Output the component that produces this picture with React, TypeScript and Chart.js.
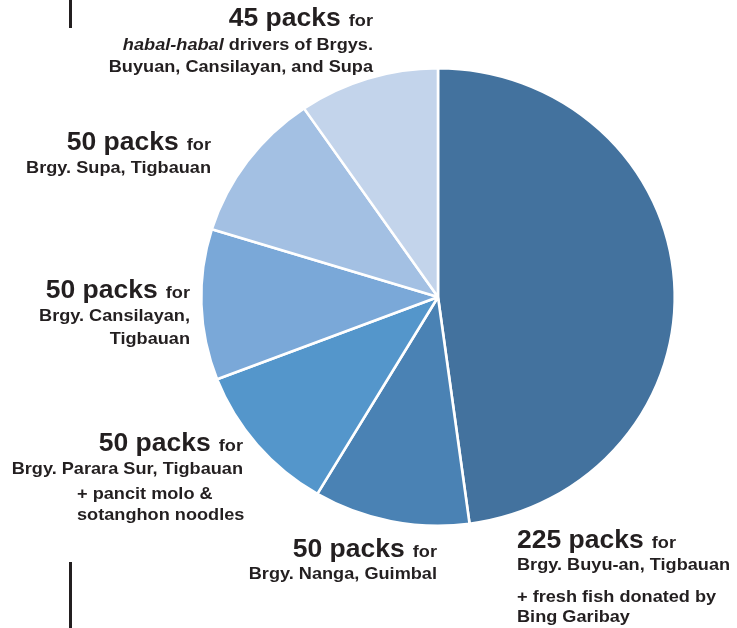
import React, { useEffect, useRef } from "react";
import { Chart, registerables } from "chart.js";

Chart.register(...registerables);

// ---- Data ----
const categories = [
  "Brgy. Buyu-an, Tigbauan",
  "Brgy. Nanga, Guimbal",
  "Brgy. Parara Sur, Tigbauan",
  "Brgy. Cansilayan, Tigbauan",
  "Brgy. Supa, Tigbauan",
  "habal-habal drivers",
];
const packs = [225, 50, 50, 50, 50, 45];
const sliceColors = ["#43729e", "#4a82b4", "#5496cb", "#7aa8d8", "#a3c0e3", "#c3d4eb"];
const detailLines: string[][] = [
  ["Brgy. Buyu-an, Tigbauan", "+ fresh fish donated by", "Bing Garibay"],
  ["Brgy. Nanga, Guimbal"],
  ["Brgy. Parara Sur, Tigbauan", "+ pancit molo &", "sotanghon noodles"],
  ["Brgy. Cansilayan,", "Tigbauan"],
  ["Brgy. Supa, Tigbauan"],
  ["*habal-habal* drivers of Brgys.", "Buyuan, Cansilayan, and Supa"],
];

// ---- Layout (positions only) ----
type LinePos = { x: number; y: number; a: "left" | "right" };
const labelLayout: LinePos[][] = [
  [
    { x: 517, y: 548, a: "left" },
    { x: 517, y: 570, a: "left" },
    { x: 517, y: 602, a: "left" },
    { x: 517, y: 622, a: "left" },
  ],
  [
    { x: 437, y: 557, a: "right" },
    { x: 437, y: 579, a: "right" },
  ],
  [
    { x: 243, y: 451, a: "right" },
    { x: 243, y: 474, a: "right" },
    { x: 77, y: 499, a: "left" },
    { x: 77, y: 520, a: "left" },
  ],
  [
    { x: 190, y: 298, a: "right" },
    { x: 190, y: 321, a: "right" },
    { x: 190, y: 344, a: "right" },
  ],
  [
    { x: 211, y: 150, a: "right" },
    { x: 211, y: 173, a: "right" },
  ],
  [
    { x: 373, y: 26, a: "right" },
    { x: 373, y: 50, a: "right" },
    { x: 373, y: 72, a: "right" },
  ],
];

const TEXT_COLOR = "#231f20";
const FONT = "'Liberation Sans', Arial, Helvetica, sans-serif";
const BIG = 26;
const BIG_SX = 1.02;
const SMALL = 16.5;
const SX = 1.1;
const FOR_GAP = 8;
const PIE_CX = 438;
const PIE_CY = 297;
const PIE_STRETCH = 1.035;

type Run = { text: string; size: number; italic?: boolean; sx?: number; gap?: number };

function fontOf(r: Run) {
  return `${r.italic ? "italic " : ""}bold ${r.size}px ${FONT}`;
}

function drawRuns(ctx: CanvasRenderingContext2D, runs: Run[], pos: LinePos) {
  const widths = runs.map((r) => {
    ctx.font = fontOf(r);
    return ctx.measureText(r.text).width * (r.sx ?? SX) + (r.gap ?? 0);
  });
  const total = widths.reduce((a, b) => a + b, 0);
  let cx = pos.a === "right" ? pos.x - total : pos.x;
  runs.forEach((r, i) => {
    ctx.save();
    ctx.font = fontOf(r);
    ctx.fillStyle = TEXT_COLOR;
    ctx.textAlign = "left";
    ctx.textBaseline = "alphabetic";
    ctx.translate(cx + (r.gap ?? 0), pos.y);
    ctx.scale(r.sx ?? SX, 1);
    ctx.fillText(r.text, 0, 0);
    ctx.restore();
    cx += widths[i];
  });
}

function parseLine(s: string): Run[] {
  const parts = s.split("*");
  return parts
    .map((t, i) => ({ text: t, size: SMALL, italic: i % 2 === 1 }))
    .filter((r) => r.text.length > 0);
}

const stretchPlugin = {
  id: "stretch",
  beforeDatasetsDraw(chart: any) {
    const ctx = chart.ctx;
    ctx.save();
    ctx.translate(PIE_CX, PIE_CY);
    ctx.scale(PIE_STRETCH, 1);
    ctx.translate(-PIE_CX, -PIE_CY);
  },
  afterDatasetsDraw(chart: any) {
    chart.ctx.restore();
  },
};

const labelsPlugin = {
  id: "outerLabels",
  afterDraw(chart: any) {
    const ctx: CanvasRenderingContext2D = chart.ctx;
    const values: number[] = chart.data.datasets[0].data;
    values.forEach((v, i) => {
      const layout = labelLayout[i];
      const headline: Run[] = [
        { text: `${v} packs`, size: BIG, sx: BIG_SX },
        { text: "for", size: SMALL, gap: FOR_GAP },
      ];
      drawRuns(ctx, headline, layout[0]);
      detailLines[i].forEach((line, j) => {
        drawRuns(ctx, parseLine(line), layout[j + 1]);
      });
    });
    // decorative vertical rules
    ctx.save();
    ctx.fillStyle = TEXT_COLOR;
    ctx.fillRect(69, 0, 3, 28);
    ctx.fillRect(69, 562, 3, 66);
    ctx.restore();
  },
};

export default function App() {
  const ref = useRef<HTMLCanvasElement | null>(null);
  useEffect(() => {
    if (!ref.current) return;
    const chart = new Chart(ref.current, {
      type: "pie",
      data: {
        labels: categories,
        datasets: [
          {
            data: packs,
            backgroundColor: sliceColors,
            borderColor: "#ffffff",
            borderWidth: 2.5,
            hoverOffset: 0,
          },
        ],
      },
      options: {
        responsive: false,
        animation: false,
        events: [],
        layout: { padding: { top: 67, bottom: 101, left: 208, right: 69 } },
        plugins: {
          legend: { display: false },
          tooltip: { enabled: false },
          title: { display: false },
        },
      },
      plugins: [stretchPlugin, labelsPlugin],
    });
    return () => chart.destroy();
  }, []);
  return (
    <div style={{ position: "fixed", left: 0, top: 0, width: 737, height: 628, background: "#fff" }}>
      <canvas ref={ref} width={737} height={628} style={{ display: "block" }} />
    </div>
  );
}
